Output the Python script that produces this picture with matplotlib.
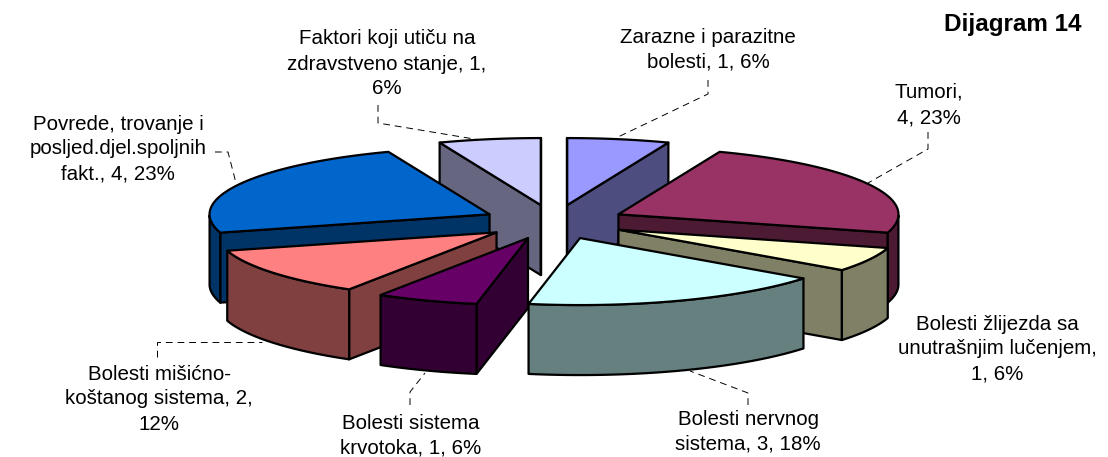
import numpy as np
import matplotlib
matplotlib.use('Agg')
import matplotlib.pyplot as plt
from matplotlib.patches import Polygon

plt.rcParams['font.family'] = ['Liberation Sans', 'DejaVu Sans']

# podaci sa dijagrama
kategorije = ['Zarazne i parazitne\nbolesti, 1, 6%',
              'Tumori,\n4, 23%',
              'Bolesti žlijezda sa\nunutrašnjim lučenjem,\n1, 6%',
              'Bolesti nervnog\nsistema, 3, 18%',
              'Bolesti sistema\nkrvotoka, 1, 6%',
              'Bolesti mišićno-\nkoštanog sistema, 2,\n12%',
              'Povrede, trovanje i\nposljed.djel.spoljnih\nfakt., 4, 23%',
              'Faktori koji utiču na\nzdravstveno stanje, 1,\n6%']
vrijednosti = [1, 4, 1, 3, 1, 2, 4, 1]
boje = ['#9999FF', '#993366', '#FFFFCC', '#CCFFFF',
        '#660066', '#FF8080', '#0066CC', '#CCCCFF']

# centri tekstova, u pikselima slike
tekst_x = [708, 929, 997, 748, 411, 159, 118, 387]
tekst_y = [50, 105, 349, 432, 436, 399, 149, 64]

# isprekidane linije do tekstova
linije = [[(708, 80), (708, 94), (618, 137)],
          [(928, 132), (928, 149), (868, 183)],
          [(748, 405), (748, 393), (690, 371)],
          [(410, 405), (410, 392), (425, 373)],
          [(157, 357), (157, 342), (262, 342)],
          [(215, 152), (228, 152), (236, 183)],
          [(378, 105), (378, 123), (480, 140)]]

cx, cy = 554, 222
rx, ry = 280, 67
eksplozija = 72
dubina = 70

fig = plt.figure(figsize=(11.08, 4.57), dpi=100)
ax = fig.add_axes([0, 0, 1, 1])
ax.set_xlim(0, 1108)
ax.set_ylim(457, 0)
ax.axis('off')


def tacka(x0, y0, ugao):
    # ugao se mjeri od vrha, u smjeru kazaljke
    return x0 + rx * np.sin(ugao), y0 - ry * np.cos(ugao)


def crtaj(pts, boja, z):
    ax.add_patch(Polygon(pts, closed=True, facecolor=boja, edgecolor='black',
                         linewidth=1.6, joinstyle='round', zorder=z))


granice = np.cumsum([0] + vrijednosti) / sum(vrijednosti) * 2 * np.pi

# redoslijed crtanja: od zadnjih ka prednjim krisevima
redoslijed = [7, 0, 6, 1, 2, 5, 4, 3]
z = 1
for i in redoslijed:
    a, b = granice[i], granice[i + 1]
    m = (a + b) / 2
    x0 = cx + eksplozija * np.sin(m) * rx / 280
    y0 = cy - eksplozija * np.cos(m) * ry / 280
    boja = boje[i]
    rgb = np.array(matplotlib.colors.to_rgb(boja)) / 2

    uglovi = np.linspace(a, b, 80)
    luk = [tacka(x0, y0, u) for u in uglovi]
    gore = [(x0, y0)] + luk

    # bocne strane presjeka, samo one okrenute ka posmatracu
    if np.sin(a) < 1e-9:
        p = tacka(x0, y0, a)
        crtaj([(x0, y0), p, (p[0], p[1] + dubina), (x0, y0 + dubina)], rgb, z)
        z += 1
    if np.sin(b) > -1e-9:
        p = tacka(x0, y0, b)
        crtaj([(x0, y0), p, (p[0], p[1] + dubina), (x0, y0 + dubina)], rgb, z)
        z += 1

    # spoljni zid, samo prednja polovina
    vidljivi = uglovi[(uglovi >= np.pi / 2) & (uglovi <= 3 * np.pi / 2)]
    if len(vidljivi) > 1:
        zid = [tacka(x0, y0, u) for u in vidljivi]
        zid = zid + [(x, y + dubina) for x, y in zid[::-1]]
        crtaj(zid, rgb, z)
        z += 1

    crtaj(gore, boja, z)
    z += 1

for lin in linije:
    xs = [p[0] for p in lin]
    ys = [p[1] for p in lin]
    ax.plot(xs, ys, color='black', lw=0.7, dashes=(7, 5), zorder=0.5)

for t, x, y in zip(kategorije, tekst_x, tekst_y):
    ax.text(x, y, t, ha='center', va='center', fontsize=14.8,
            linespacing=1.4, color='black', zorder=100)

ax.text(1013, 24, 'Dijagram 14', ha='center', va='center', fontsize=17.5,
        fontweight='bold', color='black', zorder=100)

fig.savefig('out.png', dpi=100)
